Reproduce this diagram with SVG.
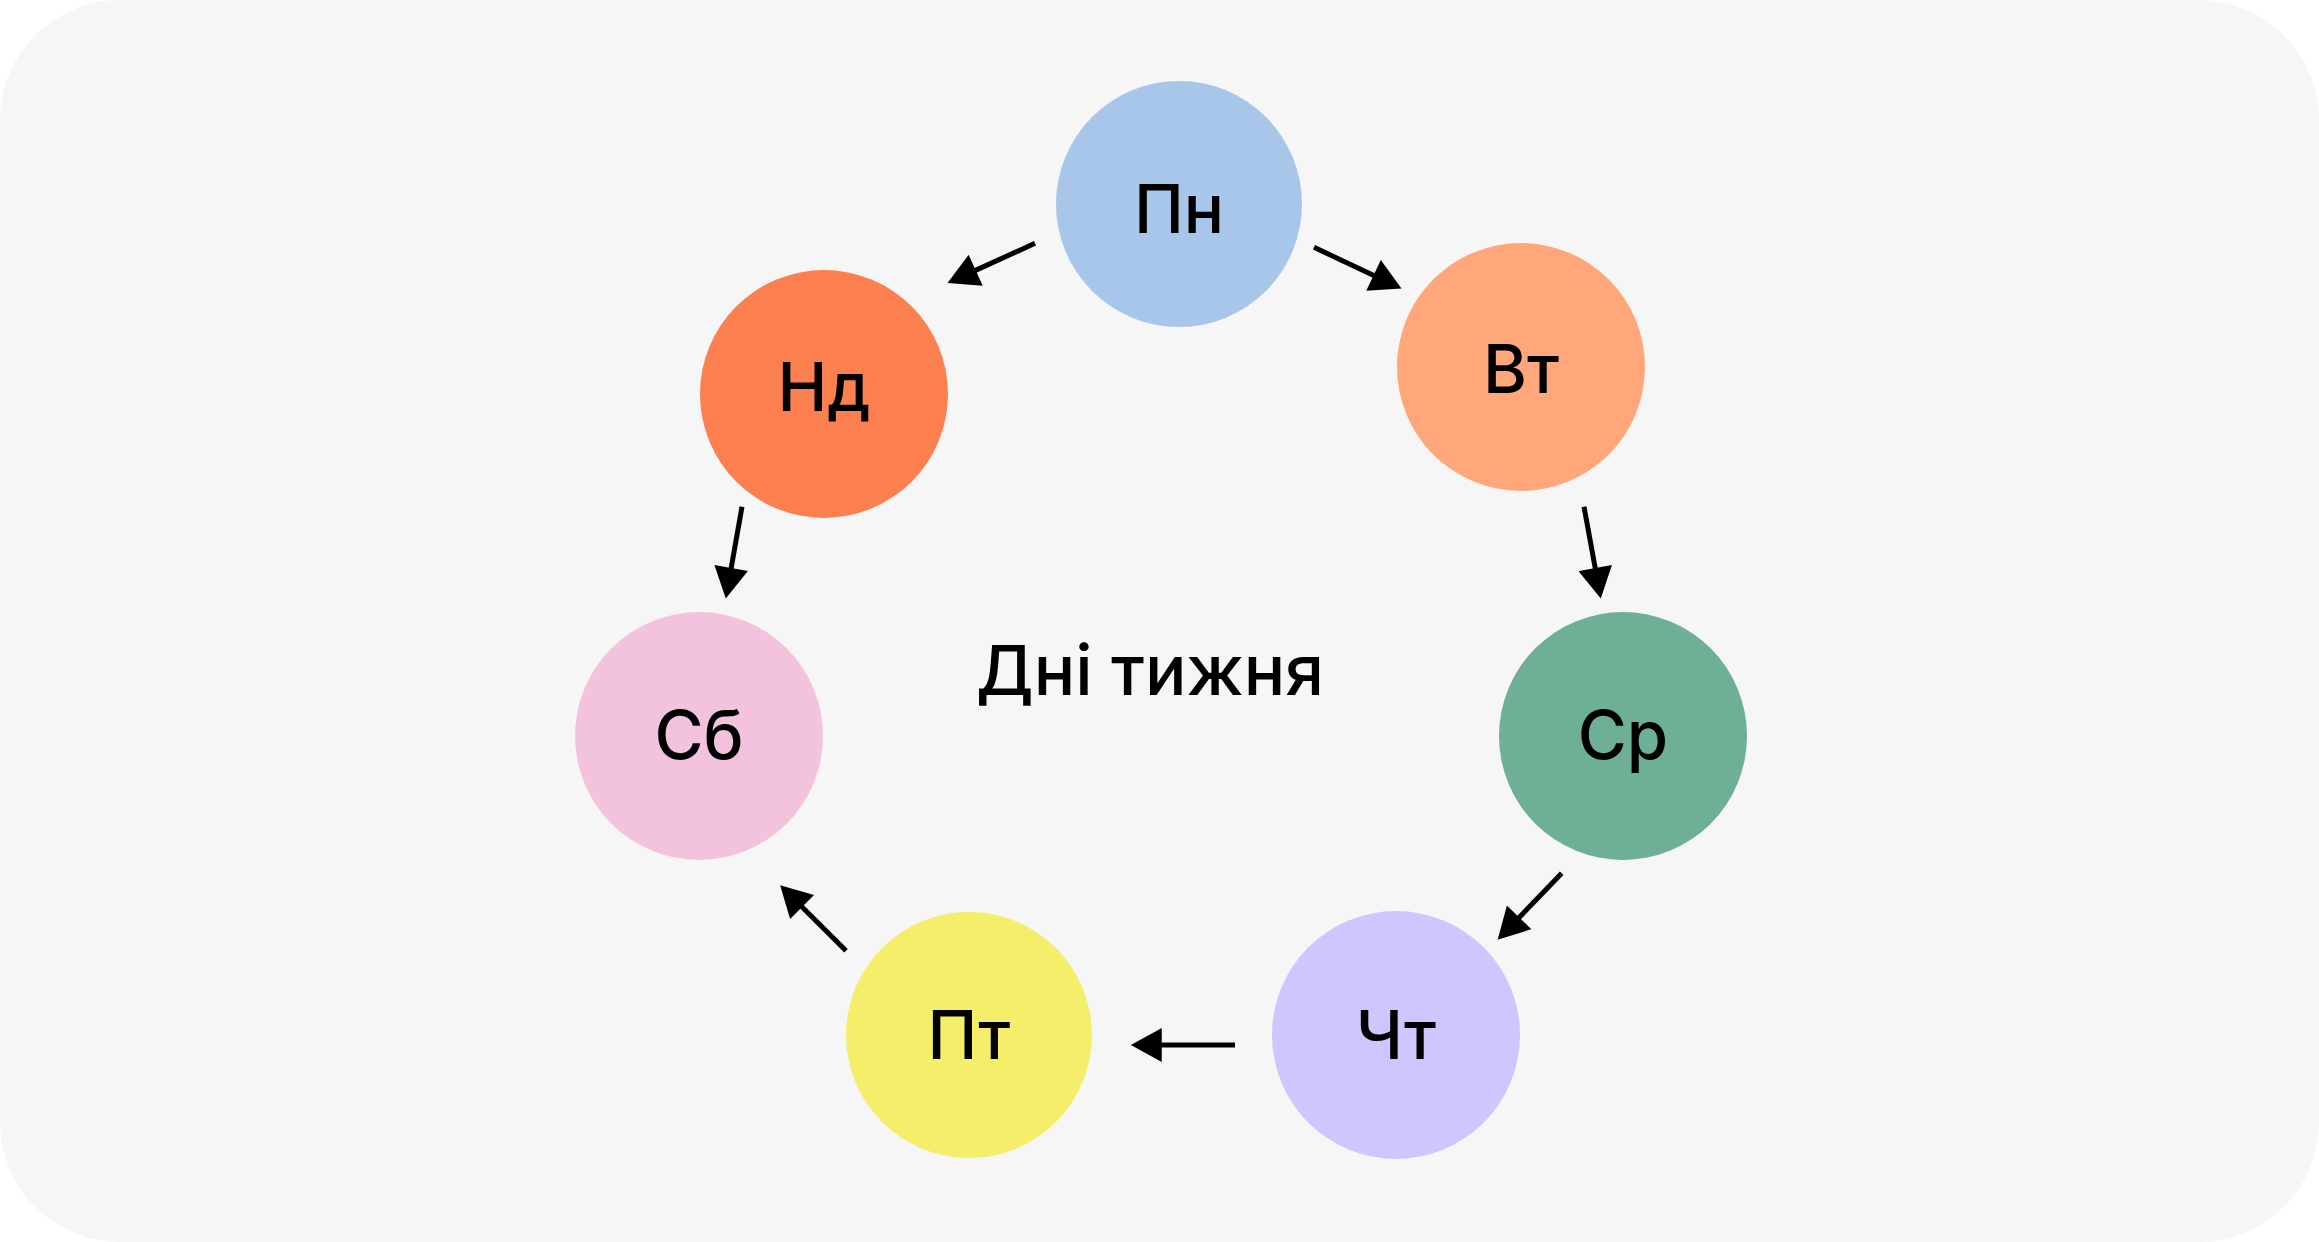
<svg xmlns="http://www.w3.org/2000/svg" width="2319" height="1242" viewBox="0 0 2319 1242">
  <style>
    .lbl { font-family: Inter, "Noto Sans", "Liberation Sans", sans-serif; font-size: 67px; font-weight: 500; fill: #000; text-anchor: middle; }
    .title { font-family: Inter, "Noto Sans", "Liberation Sans", sans-serif; font-size: 69px; font-weight: 500; fill: #000; text-anchor: middle; }
    .edge { stroke: #000; stroke-width: 5; fill: none; marker-end: url(#arrow); }
  </style>
  <defs>
    <marker id="arrow" markerUnits="userSpaceOnUse" markerWidth="32" markerHeight="34" viewBox="0 0 30 33" refX="2" refY="16.5" orient="auto">
      <path d="M0,0 L30,16.5 L0,33 Z" fill="#000"/>
    </marker>
  </defs>
  <rect x="0" y="0" width="2319" height="1242" fill="#ffffff"/>
  <rect x="0" y="0" width="2319" height="1242" rx="120" ry="120" fill="#f6f6f6"/>

  <g id="connectors">
    <line class="edge" x1="1314" y1="247.3" x2="1375.4" y2="276.3"/>
    <line class="edge" x1="1035" y1="243.3" x2="973.8" y2="271.1"/>
    <line class="edge" x1="742" y1="506.7" x2="730.8" y2="570.1"/>
    <line class="edge" x1="1584" y1="506.7" x2="1595.6" y2="570.1"/>
    <line class="edge" x1="1561.7" y1="873.3" x2="1517.7" y2="918.9"/>
    <line class="edge" x1="1235" y1="1045" x2="1159.7" y2="1045"/>
    <line class="edge" x1="846" y1="950.7" x2="800.6" y2="905.5"/>
  </g>

  <g id="node-mon">
    <circle cx="1179" cy="204" r="123" fill="#a8c6ea"/>
    <text class="lbl" x="1179" y="233">Пн</text>
  </g>
  <g id="node-tue">
    <circle cx="1521" cy="367" r="124" fill="#ffa77a"/>
    <text class="lbl" x="1521" y="393">Вт</text>
  </g>
  <g id="node-wed">
    <circle cx="1623" cy="736" r="124" fill="#6eb096"/>
    <text class="lbl" x="1623" y="759">Ср</text>
  </g>
  <g id="node-thu">
    <circle cx="1396" cy="1035" r="124" fill="#d0c5fe"/>
    <text class="lbl" x="1396" y="1059">Чт</text>
  </g>
  <g id="node-fri">
    <circle cx="969" cy="1035" r="123" fill="#f5ee6b"/>
    <text class="lbl" x="969" y="1059">Пт</text>
  </g>
  <g id="node-sat">
    <circle cx="699" cy="736" r="124" fill="#f3c3dd"/>
    <text class="lbl" x="699" y="759">Сб</text>
  </g>
  <g id="node-sun">
    <circle cx="824" cy="394" r="124" fill="#fc7f4f"/>
    <text class="lbl" x="824" y="411">Нд</text>
  </g>

  <g id="title">
    <text class="title" x="1150" y="695">Дні тижня</text>
  </g>
</svg>
